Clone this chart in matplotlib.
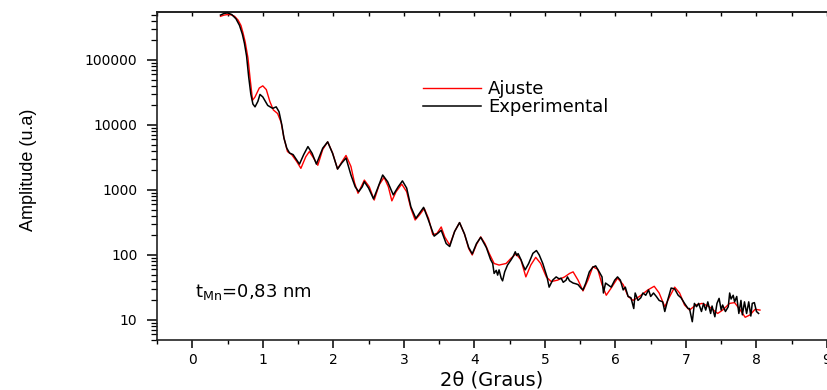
import matplotlib
matplotlib.use("Agg")
import matplotlib.pyplot as plt
from matplotlib import ticker

# ---------------- data ----------------
x_exp = [0.40, 0.45, 0.50, 0.56, 0.62, 0.67, 0.71, 0.74, 0.77, 0.80,
         0.83, 0.86, 0.89, 0.93, 0.96, 1.00, 1.07, 1.14, 1.19, 1.23,
         1.27, 1.30, 1.34, 1.38, 1.43, 1.48, 1.52, 1.58, 1.64, 1.70,
         1.76, 1.85, 1.92, 1.99, 2.06, 2.12, 2.18, 2.25, 2.31, 2.36,
         2.41, 2.44, 2.50, 2.57, 2.63, 2.70, 2.77, 2.85, 2.92, 2.98,
         3.04, 3.10, 3.17, 3.22, 3.28, 3.34, 3.43, 3.48, 3.53, 3.60,
         3.65, 3.72, 3.79, 3.86, 3.92, 3.97, 4.03, 4.09, 4.17, 4.23,
         4.26, 4.28, 4.31, 4.33, 4.35, 4.38, 4.40, 4.43, 4.47, 4.52,
         4.55, 4.58, 4.60, 4.62, 4.66, 4.69, 4.72, 4.77, 4.83, 4.88,
         4.92, 4.97, 5.03, 5.06, 5.11, 5.16, 5.20, 5.23, 5.26, 5.30,
         5.32, 5.35, 5.40, 5.44, 5.47, 5.51, 5.54, 5.58, 5.63, 5.68,
         5.72, 5.77, 5.81, 5.83, 5.86, 5.89, 5.94, 5.99, 6.03, 6.07,
         6.11, 6.14, 6.18, 6.22, 6.26, 6.28, 6.32, 6.36, 6.39, 6.43,
         6.47, 6.50, 6.54, 6.58, 6.62, 6.67, 6.70, 6.74, 6.79, 6.84,
         6.89, 6.93, 6.98, 7.03, 7.05, 7.09, 7.12, 7.15, 7.18, 7.22,
         7.25, 7.28, 7.31, 7.35, 7.37, 7.41, 7.44, 7.47, 7.50, 7.52,
         7.56, 7.60, 7.62, 7.64, 7.67, 7.69, 7.72, 7.75, 7.78, 7.80,
         7.83, 7.86, 7.89, 7.92, 7.94, 7.97, 8.00, 8.03]
y_exp = [4.9e5, 5.2e5, 5.3e5, 5.0e5, 4.3e5, 3.4e5, 2.5e5, 1.8e5, 1.15e5, 5.5e4,
         3.0e4, 2.1e4, 1.9e4, 2.3e4, 2.95e4, 2.7e4, 2.0e4, 1.8e4, 1.9e4, 1.6e4,
         1.0e4, 6300, 4400, 3700, 3500, 2900, 2500, 3500, 4650, 3650,
         2500, 4400, 5500, 3650, 2100, 2600, 3100, 1700, 1120, 940,
         1120, 1340, 1070, 730, 1070, 1700, 1340, 840, 1120, 1380,
         1070, 550, 365, 435, 540, 365, 195, 215, 240, 150,
         135, 230, 315, 210, 130, 104, 150, 187, 130, 85,
         74, 52, 58, 49, 59, 44, 40, 55, 70, 84,
         95, 112, 98, 105, 85, 70, 59, 74, 106, 117,
         100, 74, 46, 32, 41, 46, 43, 44, 38, 41,
         46, 40, 37, 36, 35, 31, 29, 37, 55, 65,
         68, 55, 46, 26, 37, 35, 32, 41, 46, 41,
         29, 32, 23, 22, 15, 26, 20, 22, 26, 24,
         29, 23, 26, 23, 20, 19, 13.5, 20, 31, 30,
         24, 22, 18, 15, 15, 9.4, 18, 16, 18, 13.5,
         18, 14.2, 19, 12.6, 16.4, 11.2, 18, 21.5, 14.2, 17,
         13.5, 16, 26, 21, 24, 19, 23, 12.6, 20, 12,
         19, 12.6, 19, 11.5, 18, 18.5, 13.5, 12.6]

x_fit = [0.40, 0.45, 0.50, 0.55, 0.60, 0.65, 0.69, 0.72, 0.75, 0.79,
         0.82, 0.855, 0.89, 0.95, 1.00, 1.05, 1.10, 1.15, 1.21, 1.26,
         1.30, 1.35, 1.41, 1.48, 1.54, 1.61, 1.66, 1.72, 1.78, 1.85,
         1.92, 1.99, 2.06, 2.12, 2.18, 2.25, 2.30, 2.35, 2.40, 2.44,
         2.51, 2.58, 2.65, 2.72, 2.78, 2.83, 2.89, 2.97, 3.04, 3.10,
         3.16, 3.22, 3.29, 3.35, 3.41, 3.47, 3.53, 3.58, 3.65, 3.72,
         3.79, 3.86, 3.92, 3.97, 4.03, 4.09, 4.15, 4.21, 4.28, 4.35,
         4.45, 4.52, 4.59, 4.66, 4.73, 4.80, 4.87, 4.94, 5.02, 5.09,
         5.18, 5.28, 5.35, 5.40, 5.47, 5.54, 5.61, 5.68, 5.75, 5.81,
         5.87, 5.94, 6.03, 6.11, 6.18, 6.25, 6.34, 6.46, 6.55, 6.62,
         6.70, 6.77, 6.84, 6.91, 6.98, 7.05, 7.14, 7.23, 7.33, 7.45,
         7.52, 7.62, 7.69, 7.77, 7.84, 7.91, 7.98, 8.05]
y_fit = [4.7e5, 4.9e5, 5.0e5, 4.95e5, 4.7e5, 4.1e5, 3.4e5, 2.6e5, 1.9e5, 1.07e5,
         5.2e4, 2.4e4, 2.7e4, 3.7e4, 4.0e4, 3.5e4, 2.3e4, 1.7e4, 1.5e4, 1.1e4,
         6300, 3900, 3500, 2750, 2150, 3250, 3900, 3100, 2400, 4200,
         5500, 3700, 2100, 2700, 3400, 2300, 1300, 890, 1150, 1420,
         1120, 700, 1200, 1570, 1120, 680, 940, 1230, 940, 520,
         345, 410, 520, 365, 205, 215, 270, 190, 142, 230,
         315, 210, 125, 100, 145, 190, 150, 106, 74, 70,
         74, 89, 104, 84, 46, 70, 92, 74, 46, 39,
         41, 46, 52, 55, 41, 28, 41, 66, 60, 35,
         24, 31, 44, 35, 23, 20, 23, 29, 33, 26,
         16, 23, 32, 26, 17, 14.2, 17, 18, 16, 12.6,
         14.2, 18, 18.5, 14.2, 11, 12, 14.6, 14.2]

x_ticks = [0, 1, 2, 3, 4, 5, 6, 7, 8, 9]
x_tick_labels = ["0", "1", "2", "3", "4", "5", "6", "7", "8", "9"]
y_ticks = [10, 100, 1000, 10000, 100000]
y_tick_labels = ["10", "100", "1000", "10000", "100000"]

series_labels = ["Ajuste", "Experimental"]
x_label = "2\u03b8 (Graus)"
y_label = "Amplitude (u.a)"
annotation = "t$_{\\mathrm{Mn}}$=0,83 nm"

# ---------------- figure ----------------
plt.rcParams["font.family"] = ["DejaVu Sans"]
plt.rcParams["mathtext.default"] = "regular"

W, H = 827, 390
fig = plt.figure(figsize=(W / 100, H / 100), dpi=100)
ax_l, ax_r, ax_t, ax_b = 157, 827, 11.7, 340
ax = fig.add_axes([ax_l / W, 1 - ax_b / H, (ax_r - ax_l) / W, (ax_b - ax_t) / H])

ax.plot(x_fit, y_fit, color="#ff0000", lw=1.0, label=series_labels[0], zorder=2)
ax.plot(x_exp, y_exp, color="black", lw=1.1, label=series_labels[1], zorder=3)

ax.set_yscale("log")
ax.set_xlim(-0.5, 9.0)
ax.set_ylim(4.92, 5.53e5)

ax.set_xticks(x_ticks, labels=x_tick_labels)
ax.xaxis.set_minor_locator(ticker.MultipleLocator(0.5))
ax.set_yticks(y_ticks, labels=y_tick_labels)
ax.yaxis.set_minor_locator(ticker.LogLocator(base=10, subs=range(2, 10), numticks=20))
ax.yaxis.set_minor_formatter(ticker.NullFormatter())

for s in ["left", "bottom", "top"]:
    ax.spines[s].set_linewidth(1.2)
    ax.spines[s].set_color("#222222")
ax.spines["right"].set_visible(False)

ax.tick_params(axis="x", which="major", direction="out", length=6, width=1.1,
               labelsize=10, pad=3, top=False)
ax.tick_params(axis="x", which="minor", direction="out", length=3, width=1.0, top=False)
ax.tick_params(axis="y", which="major", direction="out", length=7, width=1.1,
               labelsize=10, pad=7, right=False)
ax.tick_params(axis="y", which="minor", direction="out", length=4, width=0.9, right=False)

# top spine ticks (inward)
sec = ax.secondary_xaxis("top")
sec.set_xticks(x_ticks)
sec.xaxis.set_minor_locator(ticker.MultipleLocator(0.5))
sec.tick_params(axis="x", which="both", direction="in", length=3, width=1.0, labeltop=False)
sec.spines["top"].set_linewidth(1.2)
sec.spines["top"].set_color("#222222")

ax.set_xlabel(x_label, fontsize=14)
ax.xaxis.set_label_coords(0.5, (ax_b - 370) / (ax_b - ax_t))
ax.set_ylabel(y_label, fontsize=13, family=["Liberation Sans", "DejaVu Sans"])
ax.yaxis.set_label_coords((37 - ax_l) / (ax_r - ax_l), (ax_b - 170) / (ax_b - ax_t))

ax.text((195 - ax_l) / (ax_r - ax_l), (ax_b - 297) / (ax_b - ax_t), annotation,
        transform=ax.transAxes, fontsize=13, ha="left", va="baseline")

ax.legend(loc="center left", bbox_to_anchor=(423 / W, 1 - 98 / H),
          bbox_transform=fig.transFigure, frameon=False, fontsize=13,
          handlelength=3.2, handletextpad=0.4, labelspacing=0.0,
          borderpad=0, borderaxespad=0)

fig.savefig("out.png", dpi=100)
